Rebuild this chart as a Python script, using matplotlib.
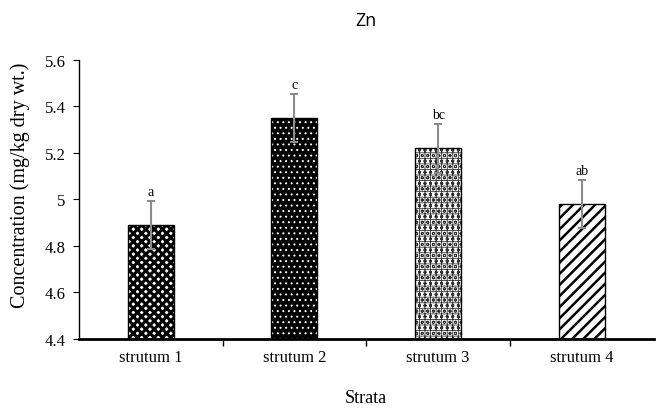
import matplotlib
matplotlib.use("Agg")
import matplotlib.pyplot as plt
import numpy as np

categories = ["strutum 1", "strutum 2", "strutum 3", "strutum 4"]
means = [4.89, 5.35, 5.22, 4.98]
errors = [0.105, 0.105, 0.105, 0.105]
letters = ["a", "c", "bc", "ab"]
yticks = [4.4, 4.6, 4.8, 5.0, 5.2, 5.4, 5.6]
ytick_labels = ["4.4", "4.6", "4.8", "5", "5.2", "5.4", "5.6"]

plt.rcParams['font.family'] = ['Liberation Serif', 'DejaVu Serif']

fig = plt.figure(figsize=(6.57, 4.14), dpi=100)
ax = fig.add_axes([0.120, 0.179, 0.875, 0.674])

x = np.arange(len(categories))
w = 0.32

styles = [
    dict(face="white", hcol="black", hatch="xxxx", hlw=2.2),
    dict(face="black", hcol="white", hatch="...", hlw=0.7),
    dict(face="white", hcol="#303030", hatch="ooo+++", hlw=0.6),
    dict(face="white", hcol="black", hatch="///", hlw=1.8),
]

for i, st in enumerate(styles):
    b = ax.bar(x[i], means[i] - 4.4, bottom=4.4, width=w, color=st["face"],
               edgecolor=st["hcol"], hatch=st["hatch"], linewidth=0, zorder=2)
    for p in b:
        if hasattr(p, "set_hatch_linewidth"):
            p.set_hatch_linewidth(st["hlw"])
    ax.bar(x[i], means[i] - 4.4, bottom=4.4, width=w, fill=False,
           edgecolor="black", linewidth=1.0, zorder=3)

ax.errorbar(x, means, yerr=errors, fmt="none", ecolor="#8c8c8c",
            elinewidth=1.5, capsize=3, capthick=1.5, zorder=4)

for i in range(len(categories)):
    ax.text(x[i], means[i] + errors[i] + 0.012, letters[i], ha="center",
            va="bottom", fontsize=10)

ax.set_xlim(-0.5, len(categories) - 0.5)
ax.set_ylim(4.4, 5.6)
ax.set_yticks(yticks)
ax.set_yticklabels(ytick_labels, fontsize=12)
ax.set_xticks(x)
ax.set_xticklabels(categories, fontsize=12)
ax.set_xticks(np.arange(0.5, len(categories) - 0.5, 1), minor=True)
ax.tick_params(axis="x", which="major", length=0, pad=7)
ax.tick_params(axis="x", which="minor", length=5, width=1, direction="out")
ax.tick_params(axis="y", which="major", length=4, width=0.8, direction="out",
               pad=5.5)

for s in ["top", "right"]:
    ax.spines[s].set_visible(False)
ax.spines["left"].set_linewidth(1.0)
ax.spines["bottom"].set_linewidth(2.0)

ax.set_ylabel("Concentration (mg/kg dry wt.)", fontsize=14.5)
ax.yaxis.set_label_coords(-0.085, 0.555)
fig.text(0.557, 0.018, "Strata", ha="center", va="bottom", fontsize=13)
fig.text(0.557, 0.95, "Zn", ha="center", va="center", fontsize=13,
         family=["Open Sans", "DejaVu Sans"])

fig.savefig("out.png", dpi=100)
